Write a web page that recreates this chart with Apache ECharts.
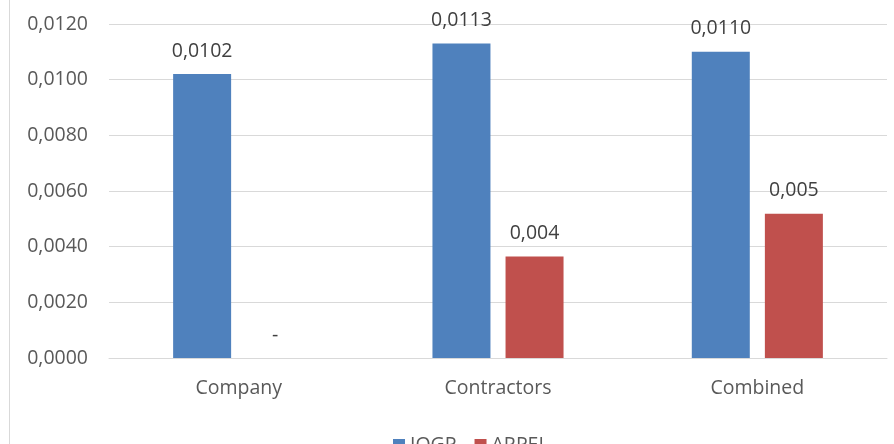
<!DOCTYPE html>
<html>
<head>
<meta charset="utf-8">
<script src="https://cdn.jsdelivr.net/npm/echarts@6/dist/echarts.min.js"></script>
<style>html,body{margin:0;padding:0;background:#fff}#c{width:894px;height:444px}</style>
</head>
<body>
<div id="c"></div>
<script>
const categories = ['Company', 'Contractors', 'Combined'];
const iogp = [0.0102, 0.0113, 0.0110];
const arpel = [0, 0.00365, 0.00518];
const yTicks = { min: 0, max: 0.012, interval: 0.002 };

const fmt = (v, d) => v.toFixed(d).replace('.', ',');
const font = 'Open Sans';
const txt = '#595959';
const fs = 19.5;

const chart = echarts.init(document.getElementById('c'));
chart.setOption({
  animation: false,
  textStyle: { fontFamily: font },
  graphic: [{ type: 'line', shape: { x1: 9.5, y1: 0, x2: 9.5, y2: 444 }, style: { stroke: '#d9d9d9', lineWidth: 1 } }],
  grid: { left: 109, right: 7, top: 24, bottom: 86, containLabel: false },
  legend: {
    left: 388, top: 430, itemWidth: 12, itemHeight: 12, itemGap: 18,
    icon: 'rect',
    textStyle: { color: txt, fontSize: fs, fontFamily: font }
  },
  xAxis: {
    type: 'category', data: categories,
    axisTick: { show: false },
    axisLine: { lineStyle: { color: '#d9d9d9' } },
    axisLabel: { color: txt, fontSize: fs, margin: 20, fontFamily: font }
  },
  yAxis: {
    type: 'value', min: yTicks.min, max: yTicks.max, interval: yTicks.interval,
    axisLine: { show: false }, axisTick: { show: false },
    splitLine: { lineStyle: { color: '#d9d9d9' } },
    axisLabel: { color: txt, fontSize: fs, margin: 21, fontFamily: font, formatter: v => fmt(v, 4) }
  },
  series: [
    {
      name: 'IOGP', type: 'bar', data: iogp, barWidth: 58, barGap: '26%',
      itemStyle: { color: '#4f81bd' },
      label: { show: true, position: 'top', distance: 13, color: '#404040', fontSize: fs, fontFamily: font, formatter: p => fmt(p.value, 4) }
    },
    {
      name: 'ARPEL', type: 'bar', data: arpel, barWidth: 58,
      itemStyle: { color: '#c0504d' },
      label: { show: true, position: 'top', distance: 13, color: '#404040', fontSize: fs, fontFamily: font, formatter: p => p.value === 0 ? '-' : fmt(p.value, 3) }
    }
  ]
});
</script>
</body>
</html>
